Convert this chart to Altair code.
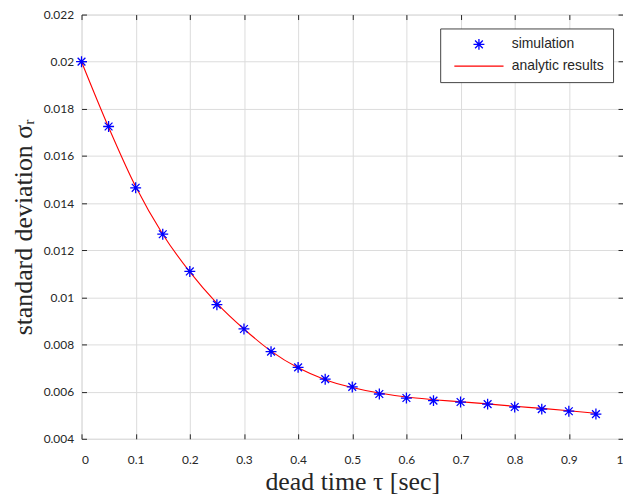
import altair as alt
import pandas as pd

tau = [0.0, 0.05, 0.1, 0.15, 0.2, 0.25, 0.3, 0.35, 0.4, 0.45,
       0.5, 0.55, 0.6, 0.65, 0.7, 0.75, 0.8, 0.85, 0.9, 0.95]
sim = [0.0200, 0.01725, 0.01465, 0.01268, 0.01110, 0.00969, 0.00866, 0.00770,
       0.00703, 0.00653, 0.00620, 0.00590, 0.00573, 0.00562, 0.00556, 0.00547,
       0.00535, 0.00526, 0.00517, 0.00505]
ana = [0.0200, 0.01722, 0.01470, 0.01268, 0.01108, 0.00975, 0.00866, 0.00772,
       0.00701, 0.00651, 0.00618, 0.00594, 0.00577, 0.00566, 0.00557, 0.00548,
       0.00538, 0.00529, 0.00519, 0.00508]
series_names = ["simulation", "analytic results"]
x_ticks = [0, 0.1, 0.2, 0.3, 0.4, 0.5, 0.6, 0.7, 0.8, 0.9, 1.0]
y_ticks = [0.004, 0.006, 0.008, 0.01, 0.012, 0.014, 0.016, 0.018, 0.02, 0.022]

df_sim = pd.DataFrame({"tau": tau, "sigma": sim, "series": series_names[0]})
df_ana = pd.DataFrame({"tau": tau, "sigma": ana, "series": series_names[1]})

ASTER = "M-1,0L1,0M0,-1L0,1M-0.71,-0.71L0.71,0.71M-0.71,0.71L0.71,-0.71"
LEGEND_LINE = "M-4.5,0L4.5,0"
AX = "#262626"
GRID = "#dcdcdc"

xscale = alt.Scale(domain=[0, 1], nice=False)
yscale = alt.Scale(domain=[0.004, 0.022], nice=False, zero=False)
cscale = alt.Scale(domain=series_names, range=["#0000ff", "#ff0000"])
sscale = alt.Scale(domain=series_names, range=[ASTER, LEGEND_LINE])

main_x = alt.Axis(values=x_ticks, format=".1~f", grid=True, gridColor=GRID,
                  domain=False, ticks=True, tickSize=5, offset=-5, tickColor=AX,
                  labelPadding=16, labelFont="Lato", labelFontSize=12, labelColor=AX,
                  title="dead time τ [sec]", titleFont="Liberation Serif",
                  titleFontSize=26, titleFontWeight="normal", titleColor=AX,
                  titlePadding=3)
main_y = alt.Axis(values=y_ticks, format=".3~f", grid=True, gridColor=GRID,
                  domain=False, ticks=True, tickSize=5, offset=-5, tickColor=AX,
                  labelPadding=8, labelFont="Lato", labelFontSize=12, labelColor=AX,
                  title="standard deviation σᵣ", titleFont="Liberation Serif",
                  titleFontSize=26, titleFontWeight="normal", titleColor=AX,
                  titlePadding=7)
top_x = alt.Axis(orient="top", values=x_ticks, grid=False, domain=False, labels=False,
                 ticks=True, tickSize=5, offset=-5, tickColor=AX, title=None)
right_y = alt.Axis(orient="right", values=y_ticks, grid=False, domain=False, labels=False,
                   ticks=True, tickSize=5, offset=-5, tickColor=AX, title=None)

legend = alt.Legend(title=None, orient="none", legendX=361, legendY=14,
                    fillColor="white", strokeColor="#444444", padding=9,
                    labelFont="Liberation Sans", labelFontSize=14, labelColor=AX,
                    symbolSize=121, symbolStrokeWidth=1.3, symbolOffset=23,
                    labelOffset=26, rowPadding=6, cornerRadius=0)

points = alt.Chart(df_sim).mark_point(filled=False, strokeWidth=1.3, size=121, opacity=1).encode(
    x=alt.X("tau:Q", scale=xscale, axis=main_x),
    y=alt.Y("sigma:Q", scale=yscale, axis=main_y),
    color=alt.Color("series:N", scale=cscale, legend=legend),
    shape=alt.Shape("series:N", scale=sscale, legend=legend),
)

line = alt.Chart(df_ana).mark_line(strokeWidth=1.1, interpolate="monotone").encode(
    x=alt.X("tau:Q", scale=xscale, axis=top_x),
    y=alt.Y("sigma:Q", scale=yscale, axis=right_y),
    color=alt.Color("series:N", scale=cscale, legend=legend),
)

chart = alt.layer(line, points).resolve_axis(x="independent", y="independent").properties(
    width=545, height=427,
    autosize=alt.AutoSizeParams(type="none"),
    padding={"left": 74, "top": 5, "right": 0, "bottom": 60},
).configure_view(stroke=AX, strokeWidth=1).configure(background="white")

chart.save("out.html", embed_options={"renderer": "svg", "actions": False})
